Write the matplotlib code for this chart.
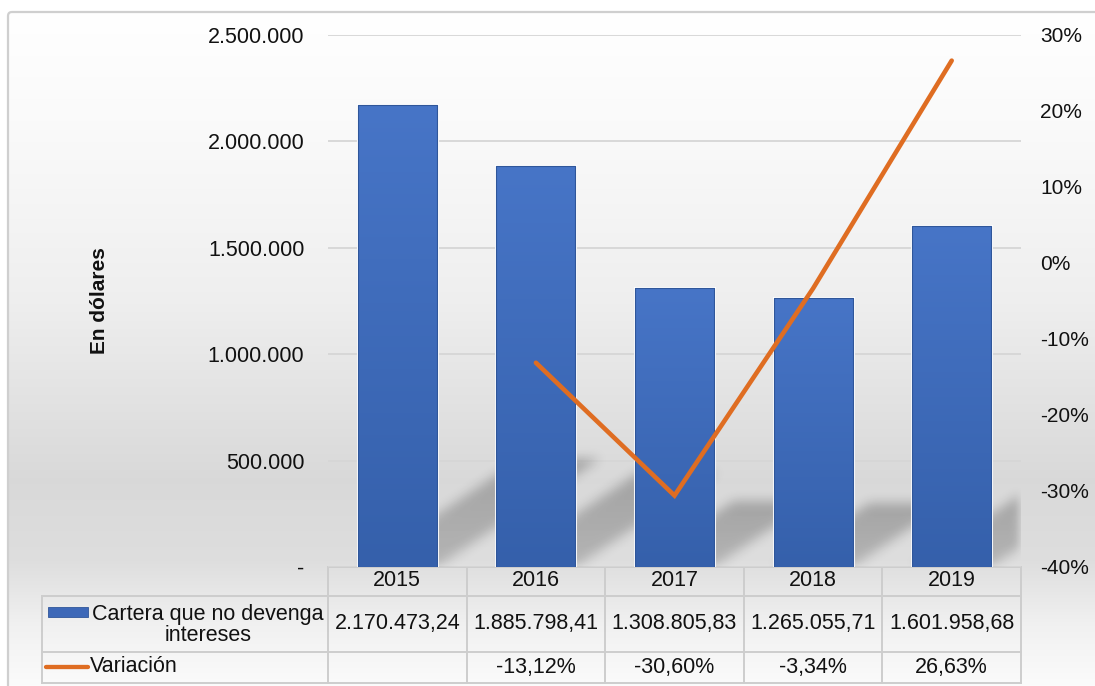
import numpy as np
import matplotlib
matplotlib.use('Agg')
import matplotlib.pyplot as plt
from matplotlib.patches import Rectangle, FancyBboxPatch
from matplotlib.lines import Line2D
from matplotlib.transforms import blended_transform_factory
from matplotlib.ticker import FuncFormatter

# ---- data ----
years = ['2015', '2016', '2017', '2018', '2019']
cartera = [2170473.24, 1885798.41, 1308805.83, 1265055.71, 1601958.68]
variacion = [np.nan, -13.12, -30.60, -3.34, 26.63]   # percent
serie_bar = 'Cartera que no devenga\nintereses'
serie_line = 'Variación'

BLUE_TOP = '#4775c7'
BLUE_BOT = '#3560ab'
ORANGE = '#df6d22'
GRID = '#d6d6d6'
TXT = '#111111'

plt.rcParams['font.family'] = ['Liberation Sans', 'DejaVu Sans']

W, H = 1095, 686
fig = plt.figure(figsize=(W / 100, H / 100), dpi=100)
fig.patch.set_facecolor('white')

# background layer in pixel coordinates
bg = fig.add_axes([0, 0, 1, 1], zorder=-1)
bg.set_xlim(0, W)
bg.set_ylim(H, 0)
bg.axis('off')

# chart area gradient: white at top, grey behind the bar bottoms, lighter again under the table
yy = np.arange(H)
stops_y = [12, 150, 300, 480, 560, 625, 686]
stops_v = [1.00, 0.975, 0.935, 0.85, 0.87, 0.945, 0.985]
shade = np.interp(yy, stops_y, stops_v)
grad = np.repeat(shade[:, None, None], 3, axis=2)
bg.imshow(grad, extent=(8, W, H, 0), aspect='auto', interpolation='bilinear', zorder=0)
bg.add_patch(Rectangle((0, 0), W, 12, facecolor='white', edgecolor='none', zorder=1))
bg.add_patch(Rectangle((0, 0), 8, H, facecolor='white', edgecolor='none', zorder=1))
bg.add_patch(FancyBboxPatch((8, 12), W + 10, H, boxstyle='round,pad=0,rounding_size=4',
                            facecolor='none', edgecolor='#cfcfcf', lw=1.6, zorder=2))

# ---- main axes ----
ax_l, ax_r, ax_t, ax_b = 328, 1021, 35, 567
ax = fig.add_axes([ax_l / W, 1 - ax_b / H, (ax_r - ax_l) / W, (ax_b - ax_t) / H])
ax.patch.set_visible(False)
ax.set_xlim(-0.5, 4.5)
ax.set_ylim(0, 2500000)
ax.set_yticks(np.arange(0, 2500001, 500000))
ax.yaxis.set_major_formatter(FuncFormatter(
    lambda v, p: '-' if v == 0 else f'{int(v):,}'.replace(',', '.')))
ax.set_xticks([])
ax.tick_params(axis='y', length=0, pad=17, labelsize=15.5, labelcolor=TXT)
for s in ax.spines.values():
    s.set_visible(False)
ax.set_axisbelow(True)
ax.yaxis.grid(True, color=GRID, lw=1.3)

x = np.arange(len(years))
bw = 0.57

# soft perspective shadows behind the bars
nx, ny = 700, 540
gx = np.linspace(-0.5, 4.5, nx)
gy = np.linspace(0, 2500000, ny)
GX, GY = np.meshgrid(gx, gy)
mask = np.zeros_like(GX)
for xi, v in zip(x, cartera):
    dh = 0.235 * v
    dx = 2.32e-6 * dh
    t = GY / dh
    left = xi - bw / 2 + t * dx
    inside = (t <= 1) & (GX >= left) & (GX <= left + bw)
    mask = np.maximum(mask, inside * (0.75 + 0.25 * np.clip(t, 0, 1)))


def box_blur(a, r, n=3):
    k = np.ones(2 * r + 1) / (2 * r + 1)
    for _ in range(n):
        a = np.apply_along_axis(lambda m: np.convolve(m, k, mode='same'), 0, a)
        a = np.apply_along_axis(lambda m: np.convolve(m, k, mode='same'), 1, a)
    return a


mask = box_blur(mask, 5)
shadow = np.zeros((ny, nx, 4))
shadow[..., 3] = mask * 0.25
ax.imshow(shadow, extent=(-0.5, 4.5, 0, 2500000), origin='lower',
          aspect='auto', interpolation='bilinear', zorder=0.6)

# bars with a vertical gradient and a thin light rim
bar_grad = np.linspace(0, 1, 256)[:, None]
cmap = matplotlib.colors.LinearSegmentedColormap.from_list('barblue', [BLUE_BOT, BLUE_TOP])
bars = ax.bar(x, cartera, width=bw, color='none', edgecolor='white', lw=2.2, zorder=2)
for b in bars:
    bx, by = b.get_x(), b.get_y()
    im = ax.imshow(bar_grad, cmap=cmap, origin='lower', aspect='auto',
                   extent=(bx, bx + b.get_width(), by, by + b.get_height()), zorder=3)
    im.set_clip_path(b)
    ax.add_patch(Rectangle((bx, by), b.get_width(), b.get_height(), facecolor='none',
                           edgecolor='#2f569a', lw=0.8, zorder=4))
ax.set_xlim(-0.5, 4.5)
ax.set_ylim(0, 2500000)

ax.text(-0.33, 0.5, 'En dólares', transform=ax.transAxes, rotation=90,
        ha='center', va='center', fontsize=15, fontweight='bold', color=TXT)

# ---- secondary axis: variation line ----
ax2 = ax.twinx()
ax2.set_ylim(-40, 30)
ax2.set_yticks(np.arange(-40, 31, 10))
ax2.yaxis.set_major_formatter(FuncFormatter(lambda v, p: f'{int(v)}%'))
ax2.tick_params(axis='y', length=0, pad=14, labelsize=15, labelcolor=TXT)
for s in ax2.spines.values():
    s.set_visible(False)
ax2.plot(x, variacion, color=ORANGE, lw=3.3, solid_capstyle='round',
         solid_joinstyle='miter', zorder=5)

# ---- data table under the plot ----
tr = blended_transform_factory(ax.transData, bg.transData)
line_kw = dict(color='#cdcdcd', lw=1.4, zorder=3)
row_y = [567, 596, 652, 683]
table_left = 42
edges = np.arange(len(years) + 1) - 0.5

# horizontal rules
bg.plot([ax_l, ax_r], [row_y[0], row_y[0]], **line_kw)
for yv in row_y[1:]:
    bg.plot([table_left, ax_r], [yv, yv], **line_kw)
# vertical rules
for e in edges:
    bg.add_line(Line2D([e, e], [row_y[0], row_y[3]], transform=tr, **line_kw))
bg.plot([table_left, table_left], [row_y[1], row_y[3]], **line_kw)

fmt_money = lambda v: f'{v:,.2f}'.replace(',', 'X').replace('.', ',').replace('X', '.')
fmt_pct = lambda v: '' if np.isnan(v) else f'{v:.2f}%'.replace('.', ',')

for xi, yr, c, v in zip(x, years, cartera, variacion):
    bg.text(xi, 581, yr, transform=tr, ha='center', va='center', fontsize=15.5, color=TXT)
    bg.text(xi, 624, fmt_money(c), transform=tr, ha='center', va='center',
            fontsize=15.5, color=TXT)
    bg.text(xi, 667, fmt_pct(v), transform=tr, ha='center', va='center',
            fontsize=15.5, color=TXT)

# row headers with legend keys
bg.add_patch(Rectangle((48, 607), 40, 10, facecolor='#3d68b8', edgecolor='#2f569a',
                       lw=0.6, zorder=3))
bg.text(208, 625, serie_bar, ha='center', va='center', fontsize=15.5, color=TXT,
        linespacing=1.05)
bg.plot([46, 88], [667, 667], color=ORANGE, lw=3.1, solid_capstyle='round', zorder=3)
bg.text(90, 667, serie_line, ha='left', va='center', fontsize=15.5, color=TXT)

fig.savefig('out.png', dpi=100)
